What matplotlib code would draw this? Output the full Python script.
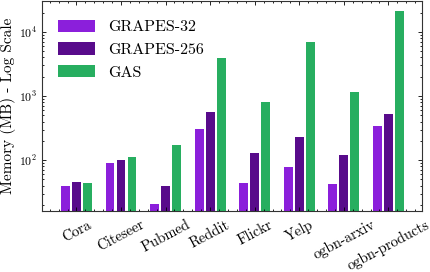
import numpy as np
import matplotlib
matplotlib.use("Agg")
import matplotlib.pyplot as plt
from matplotlib.ticker import AutoMinorLocator

# serif look like the LaTeX original
plt.rcParams['font.family'] = 'cmr10'
plt.rcParams['mathtext.fontset'] = 'cm'
plt.rcParams['axes.formatter.use_mathtext'] = True
plt.rcParams['axes.unicode_minus'] = False

datasets = ["Cora", "Citeseer", "Pubmed", "Reddit", "Flickr", "Yelp",
            "ogbn-arxiv", "ogbn-products"]
grapes_32 = [39, 90, 21, 305, 44, 78, 42, 340]
grapes_256 = [45, 100, 39, 562, 129, 229, 120, 523]
gas = [44, 111, 171, 3926, 805, 6980, 1155, 21300]

series = [("GRAPES-32", grapes_32, "#8b1fdb"),
          ("GRAPES-256", grapes_256, "#580b8b"),
          ("GAS", gas, "#27ae60")]

fig = plt.figure(figsize=(4.3, 2.72), dpi=100)
ax = fig.add_axes([0.098, 0.224, 0.883, 0.774])

x = np.arange(len(datasets))
width = 0.2
step = 0.247
for i, (name, vals, col) in enumerate(series):
    ax.bar(x + (i - 1) * step, vals, width, color=col, label=name)

ax.set_yscale("log")
ax.set_ylim(16, 31000)
ax.set_xlim(-0.77, 7.75)
ax.set_xticks(x)
ax.set_xticklabels(datasets, rotation=28, fontsize=10.5)
ax.xaxis.set_minor_locator(AutoMinorLocator(5))
ax.tick_params(axis='x', which='major', pad=5)
ax.tick_params(axis='y', labelsize=8.5)
ax.tick_params(which='both', direction='in', top=True, right=True, width=0.6)
ax.tick_params(which='major', length=3)
ax.tick_params(which='minor', length=1.5)
for s in ax.spines.values():
    s.set_linewidth(0.8)
    s.set_color("#333333")

ax.set_ylabel("Memory (MB) - Log Scale", fontsize=11, labelpad=2)
ax.legend(loc="upper left", fontsize=11.5, frameon=False,
          handlelength=2.3, handleheight=0.8, borderaxespad=0.6,
          bbox_to_anchor=(0.0, 0.985))

fig.savefig("out.png", dpi=100)
